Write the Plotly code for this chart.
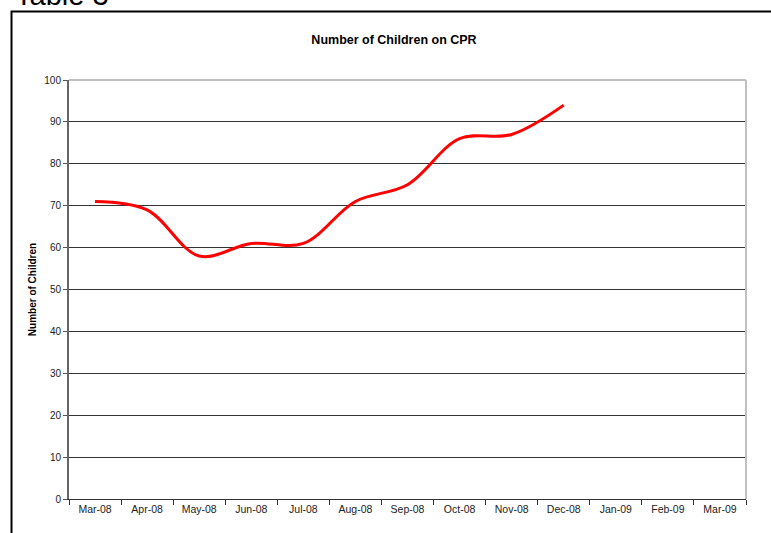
import plotly.graph_objects as go

months = ["Mar-08", "Apr-08", "May-08", "Jun-08", "Jul-08", "Aug-08", "Sep-08",
          "Oct-08", "Nov-08", "Dec-08", "Jan-09", "Feb-09", "Mar-09"]
children = [71, 69, 58, 61, 61, 71, 75, 86, 87, 94, None, None, None]
y_ticks = list(range(0, 101, 10))

FONT = "Arial, Liberation Sans, sans-serif"
W, H = 771, 533
L, R, T, B = 69, 25, 80, 34
PW, PH = W - L - R, H - T - B

fig = go.Figure()
fig.add_trace(go.Scatter(
    x=months, y=children, mode="lines",
    line=dict(color="#ff0000", width=3, shape="spline", smoothing=1.0),
    connectgaps=False, showlegend=False, hoverinfo="x+y",
))

fig.update_layout(
    width=W, height=H,
    margin=dict(l=L, r=R, t=T, b=B, pad=0),
    paper_bgcolor="white", plot_bgcolor="white",
    font=dict(family=FONT, size=10, color="#000000"),
    title=dict(text="<b>Number of Children on CPR</b>", font=dict(size=12.5, family=FONT, color="#000"),
               x=394 / W, xref="container", xanchor="center",
               y=1 - 40 / H, yref="container", yanchor="middle"),
    xaxis=dict(type="category", categoryorder="array", categoryarray=months,
               range=[-0.5, 12.5], tickson="boundaries", ticks="outside", ticklen=5,
               tickcolor="#333", tickwidth=1, showgrid=False, showline=True,
               linecolor="#333", linewidth=1, zeroline=False,
               tickfont=dict(size=10.5, family=FONT, color="#222")),
    yaxis=dict(range=[0, 100], tickvals=y_ticks, ticks="outside", ticklen=4,
               tickcolor="#555", showline=True, linecolor="#666", linewidth=2,
               showgrid=True, gridcolor="#333", gridwidth=1, zeroline=False,
               tickfont=dict(size=10, family=FONT, color="#222"),
               title=dict(text="<b>Number of Children</b>", font=dict(size=10, family=FONT, color="#000"),
                          standoff=6)),
    shapes=[
        dict(type="rect", xref="paper", yref="paper",
             x0=(11.5 - L) / PW, x1=(W + 20 - L) / PW,
             y0=-(B + 20) / PH, y1=1 + (T - 11.5) / PH,
             line=dict(color="#000", width=2), layer="above"),
        dict(type="line", xref="paper", yref="paper", x0=0, x1=1, y0=1, y1=1,
             line=dict(color="#808080", width=1)),
        dict(type="line", xref="paper", yref="paper", x0=1, x1=1, y0=0, y1=1,
             line=dict(color="#c0c0c0", width=2)),
    ],
    annotations=[
        dict(text="Table 3", xref="paper", yref="paper",
             x=(13 - L) / PW, y=1 + (T - 13) / PH,
             xanchor="left", yanchor="bottom", showarrow=False,
             font=dict(size=29, family=FONT, color="#000")),
    ],
)

fig.write_html("out.html")
